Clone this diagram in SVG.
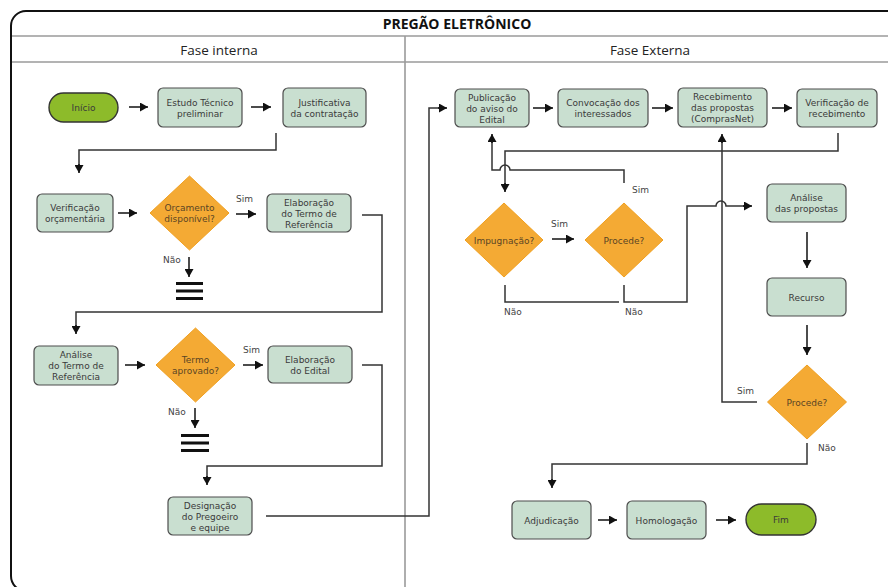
<svg xmlns="http://www.w3.org/2000/svg" width="888" height="587" viewBox="0 0 888 587">
<defs>
<marker id="ah" markerWidth="9" markerHeight="9" refX="8" refY="4.5" orient="auto" markerUnits="userSpaceOnUse"><path d="M0,0 L8,4.5 L0,9 z" fill="#111"/></marker>
</defs>
<style>
text{font-family:"DejaVu Sans","Liberation Sans",sans-serif;font-size:9px;fill:#3a3a3a;text-anchor:middle}
.box{fill:#c9dfd0;stroke:#4d4d4d;stroke-width:1.2}
.pill{fill:#8dbb2a;stroke:#333;stroke-width:1.4}
.dia{fill:#f4aa34;stroke:#f0a020;stroke-width:1}
.dt{fill:#5a4524}
.c{fill:none;stroke:#333;stroke-width:1.5}
.a{fill:none;stroke:#111;stroke-width:1.5;marker-end:url(#ah)}
.lbl{text-anchor:start;fill:#444}
.bar{fill:#111}
.frame{fill:none;stroke:#111;stroke-width:2}
.div{stroke:#9a9a9a;stroke-width:1.6;fill:none}
.h1{font-family:"Open Sans","Liberation Sans",sans-serif;font-size:14px;font-weight:700;fill:#111}
.h2{font-family:"Open Sans","Liberation Sans",sans-serif;font-size:13.5px;fill:#222}
</style>

<rect class="frame" x="11" y="11" width="900" height="580" rx="15"/>
<line class="div" x1="12" y1="36" x2="888" y2="36"/>
<line class="div" x1="12" y1="62" x2="888" y2="62"/>
<line class="div" x1="405" y1="36" x2="405" y2="587"/>
<text class="h1" x="457" y="28.5">PREGÃO ELETRÔNICO</text>
<text class="h2" x="219" y="55">Fase interna</text>
<text class="h2" x="650" y="55">Fase Externa</text>

<g id="connectors">
<line class="a" x1="129" y1="107" x2="148" y2="107"/>
<line class="a" x1="251" y1="107" x2="271" y2="107"/>
<path class="c" d="M276,133 V150 H79 V166"/><line class="a" x1="79" y1="164" x2="79" y2="173"/>
<line class="a" x1="118" y1="213" x2="137" y2="213"/>
<line class="a" x1="236" y1="214" x2="256" y2="214"/>
<line class="a" x1="189" y1="257" x2="189" y2="277"/>
<path class="c" d="M362,215 H382 V312 H76 V328"/><line class="a" x1="76" y1="325" x2="76" y2="334"/>
<line class="a" x1="125" y1="365" x2="145" y2="365"/>
<line class="a" x1="243" y1="365" x2="263" y2="365"/>
<line class="a" x1="195" y1="408" x2="195" y2="428"/>
<path class="c" d="M362,365 H382 V466 H207 V479"/><line class="a" x1="207" y1="476" x2="207" y2="485"/>
<path class="c" d="M266,516 H429 V108 H440"/><line class="a" x1="438" y1="108" x2="447" y2="108"/>
<line class="a" x1="533" y1="108" x2="553" y2="108"/>
<line class="a" x1="652" y1="108" x2="673" y2="108"/>
<line class="a" x1="772" y1="108" x2="792" y2="108"/>
<path class="c" d="M838,133 V151 H505 V186"/><line class="a" x1="505" y1="183" x2="505" y2="192"/>
<line class="a" x1="552" y1="239" x2="574" y2="239"/>
<path class="c" d="M624,183 V170 H510 A5,5 0 0 0 500,170 H492 V141"/><line class="a" x1="492" y1="143" x2="492" y2="134"/>
<path class="c" d="M505,285 V302 H619"/>
<path class="c" d="M624,285 V302 H687 V206 H716 A5,5 0 0 1 726,206 H745"/><line class="a" x1="743" y1="206" x2="752" y2="206"/>
<line class="a" x1="807" y1="232" x2="807" y2="268"/>
<line class="a" x1="807" y1="325" x2="807" y2="355"/>
<path class="c" d="M757,402 H722 V141"/><line class="a" x1="722" y1="143" x2="722" y2="134"/>
<path class="c" d="M807,443 V464 H552 V482"/><line class="a" x1="552" y1="479" x2="552" y2="488"/>
<line class="a" x1="598" y1="520" x2="617" y2="520"/>
<line class="a" x1="716" y1="520" x2="736" y2="520"/>
</g>

<g id="labels">
<text class="lbl" x="236" y="202">Sim</text>
<text class="lbl" x="163" y="263">Não</text>
<text class="lbl" x="243" y="353">Sim</text>
<text class="lbl" x="168" y="415">Não</text>
<text class="lbl" x="551" y="227">Sim</text>
<text class="lbl" x="632" y="193">Sim</text>
<text class="lbl" x="504" y="315">Não</text>
<text class="lbl" x="625" y="315">Não</text>
<text class="lbl" x="737" y="394">Sim</text>
<text class="lbl" x="818" y="451">Não</text>
</g>

<g id="end1"><rect class="bar" x="176" y="282" width="27" height="3"/><rect class="bar" x="176" y="289.5" width="27" height="3"/><rect class="bar" x="176" y="297" width="27" height="3"/></g>
<g id="end2"><rect class="bar" x="181" y="434" width="28" height="3"/><rect class="bar" x="181" y="441.5" width="28" height="3"/><rect class="bar" x="181" y="449" width="28" height="3"/></g>

<g id="inicio"><rect class="pill" x="49" y="93" width="69" height="29" rx="14.5"/><text x="83.5" y="111">Início</text></g>
<g id="estudo"><rect class="box" x="158" y="88" width="84" height="39" rx="5"/><text x="200" y="105.5">Estudo Técnico</text><text x="200" y="116.5">preliminar</text></g>
<g id="justificativa"><rect class="box" x="283" y="88" width="83" height="39" rx="5"/><text x="324.5" y="105.5">Justificativa</text><text x="324.5" y="116.5">da contratação</text></g>
<g id="verificacao-orc"><rect class="box" x="37" y="194" width="76" height="38" rx="5"/><text x="75" y="211">Verificação</text><text x="75" y="222">orçamentária</text></g>
<g id="orcamento"><polygon class="dia" points="189.5,176 229,213 189.5,250 150,213"/><text class="dt" x="189.5" y="211">Orçamento</text><text class="dt" x="189.5" y="222">disponível?</text></g>
<g id="elab-termo"><rect class="box" x="267" y="194" width="84" height="38" rx="5"/><text x="309" y="205.5">Elaboração</text><text x="309" y="216.5">do Termo de</text><text x="309" y="227.5">Referência</text></g>
<g id="analise-termo"><rect class="box" x="34" y="346" width="84" height="39" rx="5"/><text x="76" y="358">Análise</text><text x="76" y="369">do Termo de</text><text x="76" y="380">Referência</text></g>
<g id="termo"><polygon class="dia" points="195.5,328 235,365 195.5,402 156,365"/><text class="dt" x="195.5" y="363">Termo</text><text class="dt" x="195.5" y="374">aprovado?</text></g>
<g id="elab-edital"><rect class="box" x="268" y="346" width="84" height="37" rx="5"/><text x="310" y="362.5">Elaboração</text><text x="310" y="373.5">do Edital</text></g>
<g id="designacao"><rect class="box" x="168" y="497" width="84" height="38" rx="5"/><text x="210" y="508.5">Designação</text><text x="210" y="519.5">do Pregoeiro</text><text x="210" y="530.5">e equipe</text></g>
<g id="publicacao"><rect class="box" x="455" y="89" width="74" height="38" rx="5"/><text x="492" y="100.5">Publicação</text><text x="492" y="111.5">do aviso do</text><text x="492" y="122.5">Edital</text></g>
<g id="convocacao"><rect class="box" x="558" y="89" width="90" height="38" rx="5"/><text x="603" y="106">Convocação dos</text><text x="603" y="117">interessados</text></g>
<g id="recebimento"><rect class="box" x="678" y="88" width="89" height="39" rx="5"/><text x="722.5" y="100">Recebimento</text><text x="722.5" y="111">das propostas</text><text x="722.5" y="122">(ComprasNet)</text></g>
<g id="verificacao-rec"><rect class="box" x="797" y="89" width="80" height="38" rx="5"/><text x="837" y="106">Verificação de</text><text x="837" y="117">recebimento</text></g>
<g id="impugnacao"><polygon class="dia" points="504,203 543,240 504,277 465,240"/><text class="dt" x="504" y="243.5">Impugnação?</text></g>
<g id="procede1"><polygon class="dia" points="624,203 663,240 624,277 585,240"/><text class="dt" x="624" y="243.5">Procede?</text></g>
<g id="analise-prop"><rect class="box" x="767" y="184" width="79" height="38" rx="5"/><text x="806.5" y="201">Análise</text><text x="806.5" y="212">das propostas</text></g>
<g id="recurso"><rect class="box" x="767" y="278" width="79" height="38" rx="5"/><text x="806.5" y="300.5">Recurso</text></g>
<g id="procede2"><polygon class="dia" points="807,365 846.5,402 807,439 767.5,402"/><text class="dt" x="807" y="405.5">Procede?</text></g>
<g id="adjudicacao"><rect class="box" x="512" y="501" width="79" height="38" rx="5"/><text x="551.5" y="523.5">Adjudicação</text></g>
<g id="homologacao"><rect class="box" x="627" y="501" width="79" height="38" rx="5"/><text x="666.5" y="523.5">Homologação</text></g>
<g id="fim"><rect class="pill" x="746" y="504" width="70" height="31" rx="15.5"/><text x="781" y="523">Fim</text></g>
</svg>
